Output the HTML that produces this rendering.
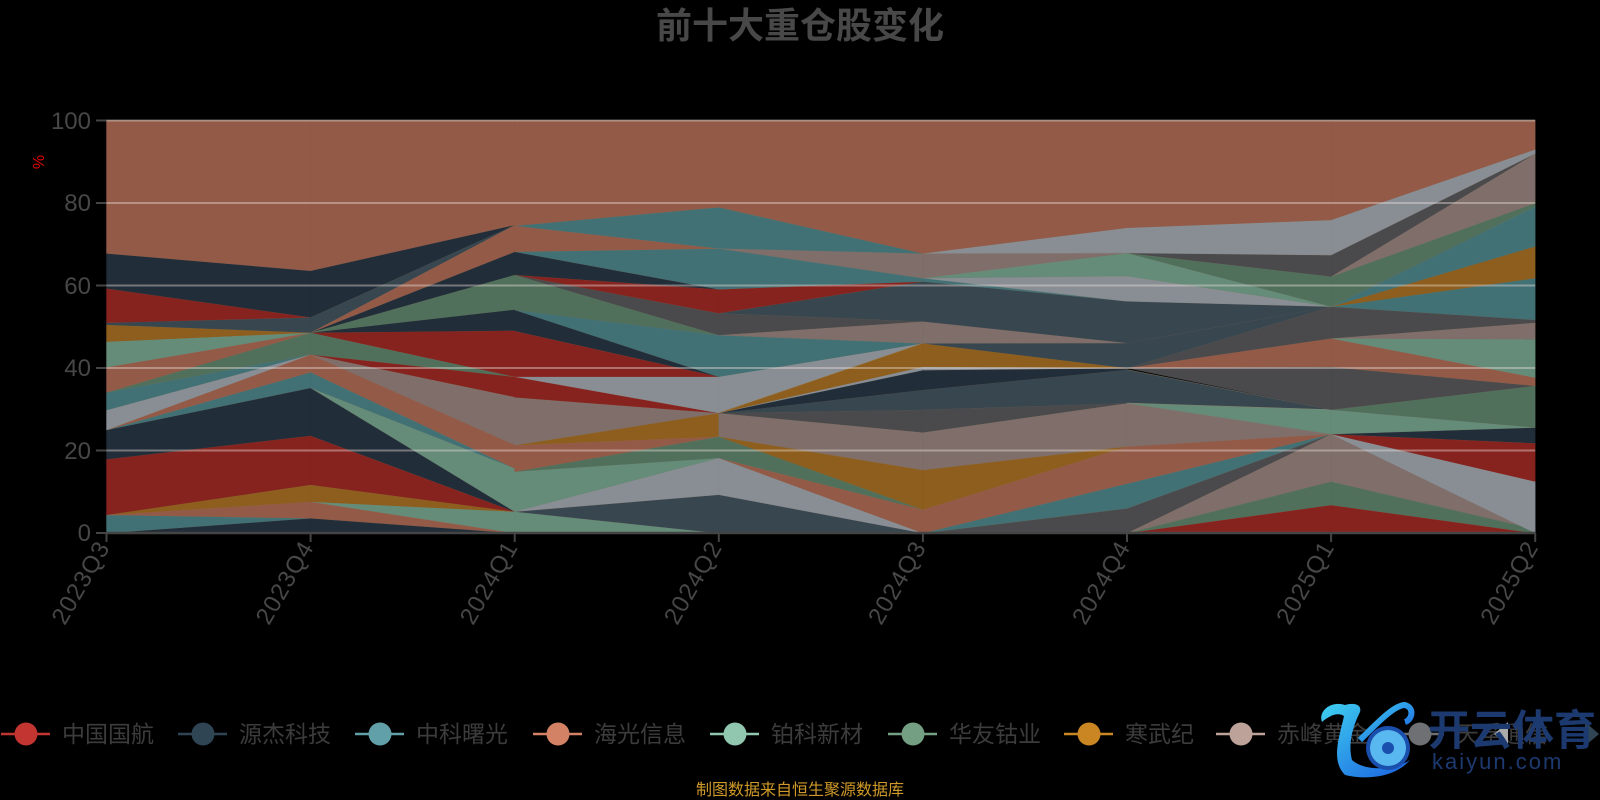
<!DOCTYPE html>
<html><head><meta charset="utf-8">
<style>
html,body{margin:0;padding:0;background:#000;}
svg{display:block;}
text{font-family:"Liberation Sans","Noto Sans CJK SC",sans-serif;}
</style></head>
<body>
<svg id="c" width="1600" height="800" viewBox="0 0 1600 800" xmlns="http://www.w3.org/2000/svg">
<rect width="1600" height="800" fill="#000"/>
<text x="800" y="38" text-anchor="middle" font-size="36" font-weight="bold" fill="#484848">前十大重仓股变化</text>
<g id="areas"></g>
<g id="grid"></g>
<g font-size="24" fill="#474747" text-anchor="end">
<text x="91" y="129">100</text>
<text x="91" y="211">80</text>
<text x="91" y="294">60</text>
<text x="91" y="376">40</text>
<text x="91" y="459">20</text>
<text x="91" y="541">0</text>
</g>
<text x="44" y="162" font-size="16" fill="#e00000" transform="rotate(-90 44 162)" text-anchor="middle">%</text>
<g id="xl" font-size="24" fill="#474747" text-anchor="end" letter-spacing="1"></g>
<g font-size="23" fill="#3c3c3c">
<line x1="1" y1="734" x2="50" y2="734" stroke="#c23531" stroke-width="2.5"/><circle cx="26" cy="734" r="11.5" fill="#c23531"/><text x="62" y="742">中国国航</text>
<line x1="178" y1="734" x2="227" y2="734" stroke="#2f4554" stroke-width="2.5"/><circle cx="203" cy="734" r="11.5" fill="#2f4554"/><text x="239" y="742">源杰科技</text>
<line x1="355" y1="734" x2="404" y2="734" stroke="#61a0a8" stroke-width="2.5"/><circle cx="380" cy="734" r="11.5" fill="#61a0a8"/><text x="416" y="742">中科曙光</text>
<line x1="533" y1="734" x2="582" y2="734" stroke="#d48265" stroke-width="2.5"/><circle cx="558" cy="734" r="11.5" fill="#d48265"/><text x="594" y="742">海光信息</text>
<line x1="710" y1="734" x2="759" y2="734" stroke="#91c7ae" stroke-width="2.5"/><circle cx="735" cy="734" r="11.5" fill="#91c7ae"/><text x="771" y="742">铂科新材</text>
<line x1="888" y1="734" x2="937" y2="734" stroke="#749f83" stroke-width="2.5"/><circle cx="913" cy="734" r="11.5" fill="#749f83"/><text x="949" y="742">华友钴业</text>
<line x1="1064" y1="734" x2="1113" y2="734" stroke="#ca8622" stroke-width="2.5"/><circle cx="1089" cy="734" r="11.5" fill="#ca8622"/><text x="1125" y="742">寒武纪</text>
<line x1="1216" y1="734" x2="1265" y2="734" stroke="#bda29a" stroke-width="2.5"/><circle cx="1241" cy="734" r="11.5" fill="#bda29a"/><text x="1277" y="742">赤峰黄金</text>
<line x1="1395" y1="734" x2="1444" y2="734" stroke="#6e7074" stroke-width="2.5"/><circle cx="1420" cy="734" r="11.5" fill="#6e7074"/><text x="1456" y="742">天孚通信</text>
</g>
<polygon points="1508,722 1508,746 1494,734" fill="#aaa"/>
<polygon points="1585,722 1585,746 1599,734" fill="#2f4554"/>
<defs><linearGradient id="wg" x1="0" y1="0" x2="1" y2="1"><stop offset="0" stop-color="#3fd0f0"/><stop offset="1" stop-color="#1a5fe0"/></linearGradient></defs>
<path d="M1345,705 C1330,700 1318,712 1322,722 C1330,715 1338,712 1344,716 C1340,735 1330,760 1345,775 C1365,780 1395,778 1410,760 C1395,770 1365,772 1352,760 C1348,745 1352,728 1360,712 C1362,705 1355,702 1345,705 Z" fill="url(#wg)"/>
<path d="M1360,740 C1380,720 1395,705 1405,705 C1415,708 1412,720 1405,722" fill="none" stroke="url(#wg)" stroke-width="6"/>
<circle cx="1388" cy="748" r="22" fill="#1a4fae"/>
<circle cx="1388" cy="748" r="18" fill="#5ab8f0"/>
<circle cx="1388" cy="748" r="6" fill="#1a4fae"/>
<text x="1428" y="745" font-size="42" font-weight="bold" fill="#1d3a70">开云体育</text>
<text x="1432" y="769" font-size="22" fill="#1d3a70" letter-spacing="2">kaiyun.com</text>
<text x="800" y="795" text-anchor="middle" font-size="16" fill="#d09a2a">制图数据来自恒生聚源数据库</text>
</svg>
<script>
(function(){
var NS="http://www.w3.org/2000/svg";
var x0=106.5,dx=204.1,y0=533,k=4.125;
function X(i){return x0+i*dx;}
function Y(v){return y0-k*v;}
var R='#87231f',N='#212d38',T='#427175',U='#935a48',LG='#658b79',GD='#51705c',O='#8d5e1d',C='#7f6e69',G='#4a4a4c',S='#38464f',LY='#898e94';
var segs=[
[[0,0,0,3.6,N],[0,4.4,3.6,3.6,T],[4.4,4.4,3.6,7.6,U],[4.4,4.4,7.6,11.7,O],[4.4,17.9,11.7,23.6,R],[17.9,25,23.6,35.2,N],[25,25,35.2,39,T],[25,25,39,43.3,U],[25,29.8,43.3,43.3,LY],[29.8,34.1,43.3,43.3,T],[34.1,34.1,43.3,48.6,GD],[34.1,40.2,48.6,48.6,U],[40.2,46.4,48.6,48.6,LG],[46.4,50.5,48.6,48.6,O],[50.5,51,48.6,52.3,S],[51,59.3,52.3,52.3,R],[59.3,67.8,52.3,63.6,N],[67.8,100,63.6,100,U]],
[[0,3.6,0,0,N],[3.6,7.6,0,0,U],[7.6,7.6,0,5.2,LG],[7.6,11.7,5.2,5.2,O],[11.7,23.6,5.2,5.2,R],[23.6,35.2,5.2,5.2,N],[35.2,35.2,5.2,15.7,LG],[35.2,39,15.7,15.7,T],[39,43.3,15.7,21.4,U],[43.3,43.3,21.4,33,C],[43.3,43.3,33,37.9,R],[43.3,48.6,37.9,37.9,GD],[48.6,48.6,37.9,49.1,R],[48.6,48.6,49.1,54.2,N],[48.6,48.6,54.2,62.6,GD],[48.6,48.6,62.6,68.2,N],[48.6,48.6,68.2,74.7,U],[48.6,52.3,74.7,74.7,S],[52.3,63.6,74.7,74.7,N],[63.6,100,74.7,100,U]],
[[0,5.2,0,0,LG],[5.2,5.2,0,9.3,S],[5.2,5.2,9.3,18.2,LY],[5.2,14.9,18.2,18.2,LG],[14.9,14.9,18.2,23.4,GD],[14.9,21.3,23.4,23.4,U],[21.3,21.3,23.4,29.1,O],[21.3,32.9,29.1,29.1,C],[32.9,37.9,29.1,29.1,R],[37.9,37.9,29.1,37.9,LY],[37.9,49,37.9,37.9,R],[49,54.1,37.9,37.9,N],[54.1,54.1,37.9,48,T],[54.1,62.6,48,48,GD],[62.6,62.6,48,53.3,G],[62.6,62.6,53.3,59.1,R],[62.6,68.2,59.1,59.1,N],[68.2,68.2,59.1,69,T],[68.2,74.5,69,69,U],[74.5,74.5,69,79,T],[74.5,100,79,100,U]],
[[0,9.3,0,0,S],[9.3,18.2,0,0,LY],[18.2,18.2,0,5.7,U],[18.2,23.4,5.7,5.7,GD],[23.4,23.4,5.7,15.3,O],[23.4,29.1,15.3,24.4,C],[29.1,29.1,24.4,29.9,G],[29.1,29.1,29.9,34.7,S],[29.1,29.1,34.7,39.5,N],[29.1,37.9,39.5,46,LY],[29.1,29.1,40.3,46,O],[37.9,48,46,46,T],[48,48,46,51.3,C],[48,53.3,51.3,51.3,G],[53.3,53.3,51.3,61,S],[53.3,59.1,61,61,R],[59.1,69,61,61.8,T],[69,69,61.8,67.8,C],[69,79,67.8,67.8,T],[79,100,67.8,100,U]],
[[0,0,0,6,G],[0,0,6,12,T],[0,5.7,12,21,U],[5.7,15.3,21,21,O],[15.3,24.4,21,31.5,C],[24.4,29.9,31.5,31.5,G],[29.9,34.7,31.5,39.6,S],[34.7,39.5,39.6,40,N],[39.5,40.3,40,40,LY],[40.3,46,40,40,O],[46,46,40,46.1,S],[46,51.3,46.1,46.1,C],[51.3,61,46.1,56.2,S],[61,61.8,56.2,56.2,T],[61.8,61.8,56.2,62.3,LY],[61.8,61.8,62.3,67.9,LG],[61.8,67.8,67.9,67.9,C],[67.8,67.8,67.9,74,LY],[67.8,100,74,100,U]],
[[0,0,0,6.8,R],[0,0,6.8,12.5,GD],[0,0,12.5,24,C],[0,6,24,24,G],[6,12,24,24,T],[12,21,24,24,U],[21,31.5,24,24,C],[31.5,39.6,29.9,29.9,S],[31.5,31.5,24,29.9,LG],[40,40,29.9,40.3,G],[40,40,40.3,47.2,U],[40,40,47.2,54.9,G],[40,46.1,54.9,54.9,S],[46.1,56.2,54.9,54.9,S],[56.2,62.3,54.9,54.9,LY],[62.3,67.9,54.9,54.9,LG],[67.9,67.9,54.9,62.2,GD],[67.9,67.9,62.2,67.4,G],[67.9,74,67.4,75.9,LY],[74,100,75.9,100,U]],
[[0,6.8,0,0,R],[6.8,12.5,0,1,GD],[12.5,24,1,1,C],[24,24,0,12.5,LY],[24,24,12.5,21.8,R],[24,24,21.8,25.6,N],[24,29.9,25.6,25.6,LG],[29.9,29.9,25.6,35.7,GD],[29.9,40.3,35.7,35.7,G],[40.3,47.2,35.7,37.7,U],[47.2,47.2,37.7,47,LG],[47.2,47.2,47,51,C],[47.2,54.9,51,51.7,G],[54.9,54.9,51.7,61.8,T],[54.9,54.9,61.8,69.5,O],[54.9,54.9,69.5,79.2,T],[54.9,62.2,79.2,80,GD],[62.2,62.2,80,92,C],[62.2,67.4,92,92,G],[67.4,75.9,92,93,LY],[75.9,100,93,100,U]]
];
var g=document.getElementById('areas');
segs.forEach(function(seg,i){
  var xa=X(i),xb=X(i+1);
  seg.forEach(function(b){
    var p=document.createElementNS(NS,'polygon');
    p.setAttribute('points',xa+','+Y(b[0])+' '+xb+','+Y(b[2])+' '+xb+','+Y(b[3])+' '+xa+','+Y(b[1]));
    p.setAttribute('fill',b[4]);
    p.setAttribute('stroke',b[4]);
    p.setAttribute('stroke-width','0.4');
    g.appendChild(p);
    var l=document.createElementNS(NS,'line');
    l.setAttribute('x1',xa);l.setAttribute('y1',Y(b[1]));l.setAttribute('x2',xb);l.setAttribute('y2',Y(b[3]));
    l.setAttribute('stroke','#a08a6a');l.setAttribute('stroke-opacity','0.45');l.setAttribute('stroke-width','0.7');
    g.appendChild(l);
  });
});
var gr=document.getElementById('grid');
for(var v=0;v<=100;v+=20){
  var l=document.createElementNS(NS,'line');
  l.setAttribute('x1',X(0));l.setAttribute('x2',X(7));
  l.setAttribute('y1',Y(v));l.setAttribute('y2',Y(v));
  if(v==0){l.setAttribute('stroke','#444');l.setAttribute('stroke-width','2.5');}
  else{l.setAttribute('stroke','rgba(235,225,220,0.42)');l.setAttribute('stroke-width','2');}
  gr.appendChild(l);
  var t=document.createElementNS(NS,'line');
  t.setAttribute('x1',96);t.setAttribute('x2',X(0));t.setAttribute('y1',Y(v));t.setAttribute('y2',Y(v));
  t.setAttribute('stroke','#444');t.setAttribute('stroke-width','2');gr.appendChild(t);
}
var lab=['2023Q3','2023Q4','2024Q1','2024Q2','2024Q3','2024Q4','2025Q1','2025Q2'];
var xl=document.getElementById('xl');
for(var i=0;i<8;i++){
  var t=document.createElementNS(NS,'line');
  t.setAttribute('x1',X(i));t.setAttribute('x2',X(i));t.setAttribute('y1',y0);t.setAttribute('y2',y0+9);
  t.setAttribute('stroke','#444');t.setAttribute('stroke-width','2');gr.appendChild(t);
  var tx=document.createElementNS(NS,'text');
  var px=X(i)+4,py=y0+14;
  tx.setAttribute('x',px);tx.setAttribute('y',py);
  tx.setAttribute('transform','rotate(-60 '+px+' '+py+')');
  tx.textContent=lab[i];xl.appendChild(tx);
}
})();
</script>
</body></html>
